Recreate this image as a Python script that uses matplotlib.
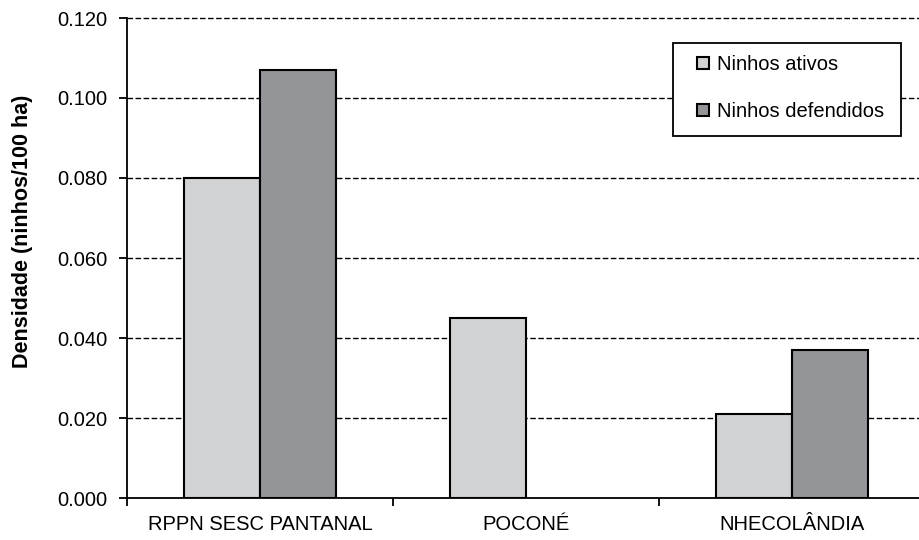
import matplotlib
matplotlib.use('Agg')
import matplotlib.pyplot as plt
from matplotlib.ticker import FormatStrFormatter, FixedLocator
from matplotlib.patches import Rectangle
import numpy as np

plt.rcParams['font.family'] = ['Liberation Sans', 'DejaVu Sans']

# data
sites = ['RPPN SESC PANTANAL', 'POCONÉ', 'NHECOLÂNDIA']
ativos = [0.080, 0.045, 0.021]
defendidos = [0.107, 0.0, 0.037]
series_names = ['Ninhos ativos', 'Ninhos defendidos']
yticks = [0.000, 0.020, 0.040, 0.060, 0.080, 0.100, 0.120]

COL_ATIVOS = '#d1d2d4'
COL_DEF = '#939598'
FS = 14.5
W, H = 919, 540

fig = plt.figure(figsize=(W / 100, H / 100), dpi=100)
# axes runs a bit past the right edge, like the cropped original
ax = fig.add_axes([127 / W, 42 / H, (925 - 127) / W, 480 / H])

x = np.arange(len(sites))
w = 0.2875
b1 = ax.bar(x - w / 2, ativos, w, color=COL_ATIVOS, edgecolor='black',
            linewidth=1.5, zorder=3, label=series_names[0])
# zero-height bar for Poconé is not drawn
def_vals = [v if v > 0 else np.nan for v in defendidos]
b2 = ax.bar(x + w / 2, def_vals, w, color=COL_DEF, edgecolor='black',
            linewidth=1.5, zorder=3, label=series_names[1])

ax.set_xlim(-0.5, len(sites) - 0.5)
ax.set_ylim(0, 0.12)
ax.set_yticks(yticks)
ax.yaxis.set_major_formatter(FormatStrFormatter('%.3f'))

# dashed gridlines
for yv in yticks[1:]:
    ax.axhline(yv, color='black', linewidth=1.0, linestyle=(0, (4, 1.8)),
               zorder=1, clip_on=False)

# category boundaries as ticks, labels at the centres
ax.xaxis.set_major_locator(FixedLocator(np.arange(-0.5, len(sites), 1.0)))
ax.xaxis.set_minor_locator(FixedLocator(x))
ax.set_xticklabels([], minor=False)
ax.set_xticklabels(sites, minor=True)
ax.tick_params(axis='x', which='major', direction='out', length=6, width=1.3)
ax.tick_params(axis='x', which='minor', length=0, pad=12, labelsize=FS)
ax.tick_params(axis='y', direction='out', length=6, width=1.3, labelsize=FS, pad=8)

for s in ['top', 'right']:
    ax.spines[s].set_visible(False)
for s in ['left', 'bottom']:
    ax.spines[s].set_linewidth(1.3)
    ax.spines[s].set_zorder(4)

ax.set_ylabel('Densidade (ninhos/100 ha)', fontsize=15.5, fontweight='bold')
ax.yaxis.set_label_coords((33 - 127) / 798, (498 - 231) / 480)

# legend box drawn by hand so the padding matches
fig.patches.append(Rectangle((673 / W, 1 - 136 / H), 228 / W, 93 / H,
                             transform=fig.transFigure, facecolor='white',
                             edgecolor='black', linewidth=1.3, zorder=5))
leg = fig.legend(handles=[b1, b2], loc='upper left',
                 bbox_to_anchor=(697 / W, 1 - 55 / H), borderaxespad=0,
                 fontsize=FS, frameon=False,
                 handlelength=0.6, handleheight=0.6, handletextpad=0.4,
                 labelspacing=1.4, borderpad=0)
leg.set_zorder(6)

fig.savefig('out.png', dpi=100)
